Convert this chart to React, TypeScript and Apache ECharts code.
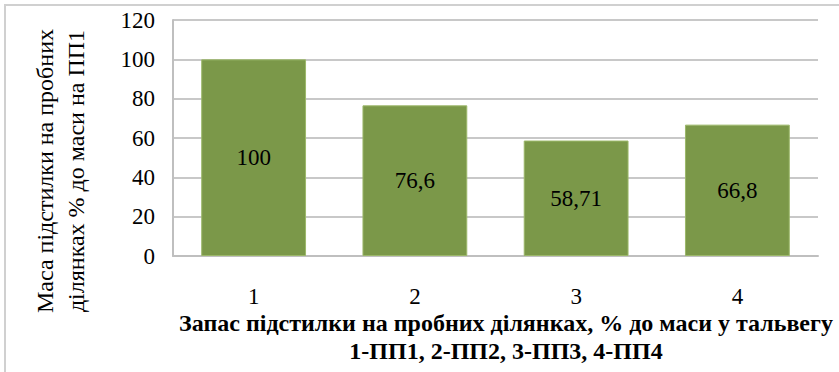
import React, { useEffect, useRef } from "react";
import * as echarts from "echarts";

const categories = ["1", "2", "3", "4"];
const values = [100, 76.6, 58.71, 66.8];
const valueLabels = ["100", "76,6", "58,71", "66,8"];
const yTicks = { min: 0, max: 120, interval: 20 };
const yTitleLines = ["Маса підстилки на пробних", "ділянках % до маси на ПП1"];
const xTitleLines = [
  "Запас підстилки на пробних ділянках, % до маси у тальвегу",
  "1-ПП1, 2-ПП2, 3-ПП3, 4-ПП4",
];

const FONT = "Liberation Serif, Times New Roman, serif";

export default function App() {
  const ref = useRef<HTMLDivElement>(null);
  useEffect(() => {
    document.body.style.margin = "0";
    if (!ref.current) return;
    const chart = echarts.init(ref.current, null, { renderer: "svg" });
    chart.setOption({
      animation: false,
      backgroundColor: "#fff",
      textStyle: { fontFamily: FONT },
      grid: { left: 173, top: 20, right: 21, bottom: 116 },
      xAxis: {
        type: "category",
        data: categories,
        axisLine: { show: true, lineStyle: { color: "#bfbfbf", width: 2 } },
        axisTick: { show: false },
        axisLabel: {
          color: "#000",
          fontFamily: FONT,
          fontSize: 23,
          margin: 29,
        },
      },
      yAxis: {
        type: "value",
        min: yTicks.min,
        max: yTicks.max,
        interval: yTicks.interval,
        axisLine: { show: true, lineStyle: { color: "#bfbfbf", width: 2 } },
        axisTick: { show: false },
        splitLine: { show: true, lineStyle: { color: "#c8c8c8", width: 2 } },
        axisLabel: {
          color: "#000",
          fontFamily: FONT,
          fontSize: 23,
          margin: 18,
        },
      },
      series: [
        {
          type: "bar",
          data: values,
          barWidth: "65%",
          itemStyle: { color: "#7B9849", borderColor: "#9CB86A", borderWidth: 1 },
          label: {
            show: true,
            position: "inside",
            color: "#000",
            fontFamily: FONT,
            fontSize: 23,
            formatter: (p: any) => valueLabels[p.dataIndex],
          },
        },
      ],
      graphic: [
        {
          type: "rect",
          shape: { x: 5, y: 5, width: 860, height: 400 },
          style: { fill: "none", stroke: "#d0d0d0", lineWidth: 2 },
          silent: true,
          z: -1,
        },
        {
          type: "text",
          x: 45,
          y: 171,
          rotation: Math.PI / 2,
          style: {
            text: yTitleLines[0],
            fontFamily: FONT,
            fontSize: 24,
            fill: "#000",
            align: "center",
            verticalAlign: "middle",
          },
        },
        {
          type: "text",
          x: 76,
          y: 171,
          rotation: Math.PI / 2,
          style: {
            text: yTitleLines[1],
            fontFamily: FONT,
            fontSize: 24,
            fill: "#000",
            align: "center",
            verticalAlign: "middle",
          },
        },
        {
          type: "text",
          x: 506,
          y: 323,
          style: {
            text: xTitleLines[0],
            fontFamily: FONT,
            fontSize: 24,
            fontWeight: "bold",
            fill: "#000",
            align: "center",
            verticalAlign: "middle",
          },
        },
        {
          type: "text",
          x: 506,
          y: 351,
          style: {
            text: xTitleLines[1],
            fontFamily: FONT,
            fontSize: 24,
            fontWeight: "bold",
            fill: "#000",
            align: "center",
            verticalAlign: "middle",
          },
        },
      ],
    });
    return () => chart.dispose();
  }, []);
  return <div ref={ref} style={{ width: 839, height: 372 }} />;
}
